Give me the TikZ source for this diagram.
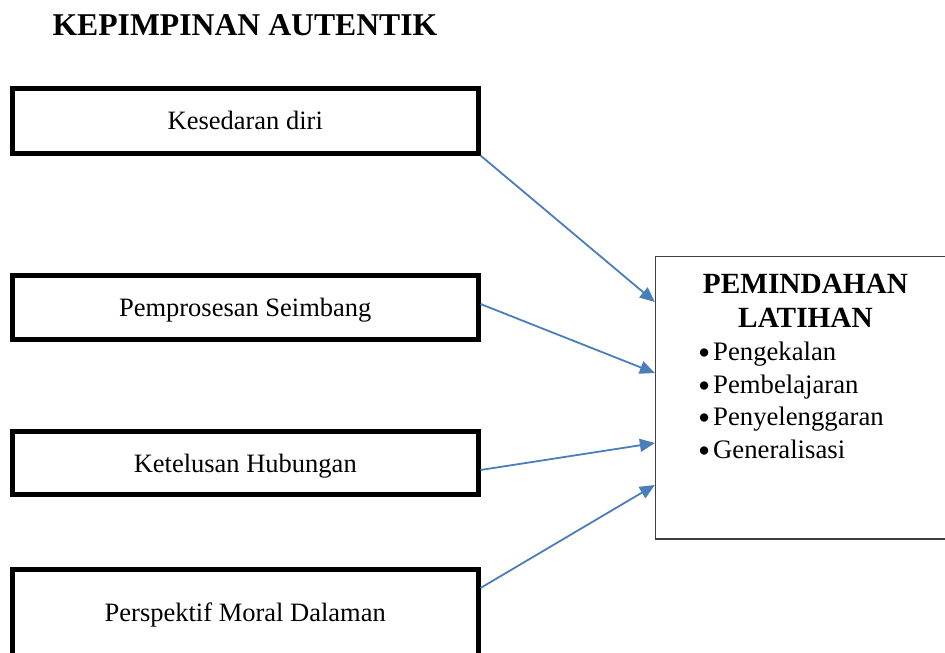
\documentclass[tikz,border=0pt]{standalone}
\usepackage{fontspec}
\setmainfont{Liberation Serif}
\usetikzlibrary{arrows.meta,positioning}
\definecolor{CarA}{RGB}{74,126,187}
\definecolor{CbxA}{RGB}{64,64,64}
\tikzset{
factbox/.style={draw=black, line width=5pt, minimum width=465.5pt, minimum height=#1,
  text height=18pt, text depth=0pt, inner sep=0pt, font=\fontsize{26.5}{32}\selectfont},
factbox/.default=64pt,
outbox/.style={draw=CbxA, line width=1.3pt, minimum width=302pt, minimum height=282.5pt, inner sep=0pt},
farrow/.style={draw=CarA, line width=1.8pt, -{Triangle[length=15pt,width=13pt]}},
}
\newcommand\bigbul{\makebox[15pt][l]{\raisebox{-4pt}{\scalebox{1.3}{\textbullet}}}}

\begin{document}
\begin{tikzpicture}[x=1pt,y=-1pt]
\useasboundingbox (0,0) rectangle (945,653);

%% Title
\node[anchor=base west, font=\fontsize{31.7}{36}\selectfont\bfseries] (title) at (49,35) {KEPIMPINAN AUTENTIK};

%% Left boxes
\node[factbox=64.5pt] (k1) at (245.25,120.75) {Kesedaran diri};
\node[factbox] (k2) at (245.25,307) {Pemprosesan Seimbang};
\node[factbox=63.5pt] (k3) at (245.25,463) {Ketelusan Hubungan};
\node[factbox=86pt] (k4) at (245.25,612) {Perspektif Moral Dalaman};

%% Right box
\node[outbox] (pl) at (806.5,397.75) {};
\node[anchor=base, font=\fontsize{29.3}{34}\selectfont\bfseries] (hd1) at (805.5,293) {PEMINDAHAN};
\node[anchor=base, font=\fontsize{29.3}{34}\selectfont\bfseries] (hd2) at (805.5,327.7) {LATIHAN};
\foreach \lbl [count=\i] in {Pengekalan,Pembelajaran,Penyelenggaran,Generalisasi}
  \node[anchor=base west, inner sep=0pt, font=\fontsize{26.7}{32}\selectfont] (li\i) at (698,{360.7+(\i-1)*32.5}) {\bigbul\lbl};

%% Arrows
\draw[farrow] (k1.south east) -- ([yshift=95.75pt]pl.west);
\draw[farrow] ([yshift=3pt]k2.east) -- ([yshift=24.75pt]pl.west);
\draw[farrow] ([yshift=-7pt]k3.east) -- ([yshift=-45.25pt]pl.west);
\draw[farrow] ([yshift=24pt]k4.east) -- ([yshift=-87.25pt]pl.west);
\end{tikzpicture}
\end{document}
